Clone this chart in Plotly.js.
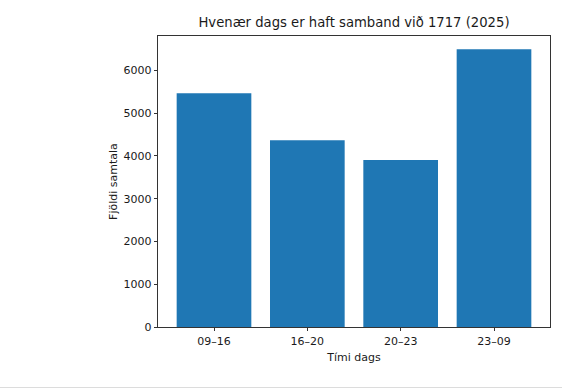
<!DOCTYPE html>
<html>
<head>
<meta charset="utf-8">
<script src="https://cdn.plot.ly/plotly-3.0.1.min.js"></script>
<style>
html,body{margin:0;padding:0;background:#fff;}
#chart{width:562px;height:392px;}
#rule{position:absolute;left:0;top:387px;width:562px;height:1px;background:#dcdcdc;}
</style>
</head>
<body>
<div id="chart"></div>
<div id="rule"></div>
<script>
const categories = ["09–16", "16–20", "20–23", "23–09"];
const calls = [5467, 4369, 3909, 6495];
const titleText = "Hvenær dags er haft samband við 1717 (2025)";
const xTitle = "Tími dags";
const yTitle = "Fjöldi samtala";

const font = "DejaVu Sans, sans-serif";
const maxV = Math.max(...calls);

Plotly.newPlot("chart", [{
  type: "bar",
  x: categories,
  y: calls,
  marker: {color: "#1f77b4"},
  hoverinfo: "x+y"
}], {
  width: 562, height: 392,
  margin: {l: 158, r: 11.5, t: 35.7, b: 65, pad: 0},
  paper_bgcolor: "#fff", plot_bgcolor: "#fff",
  bargap: 0.2,
  showlegend: false,
  font: {family: font, color: "#1a1a1a", size: 11},
  title: {text: titleText, font: {family: font, size: 13.2, color: "#1a1a1a"},
          x: 0.5, xref: "paper", xanchor: "center", y: 1 - 22/392, yref: "container", yanchor: "middle"},
  xaxis: {
    type: "category", range: [-0.6, 3.6],
    showline: true, mirror: true, linecolor: "#000", linewidth: 0.8,
    ticks: "outside", ticklen: 3.5, tickwidth: 0.8, tickcolor: "#000",
    showgrid: false, zeroline: false,
    tickfont: {family: font, size: 11, color: "#1a1a1a"},
    title: {text: xTitle, font: {family: font, size: 11, color: "#1a1a1a"}, standoff: 6}
  },
  yaxis: {
    range: [0, maxV * 1.048], dtick: 1000, tick0: 0,
    showline: true, mirror: true, linecolor: "#000", linewidth: 0.8,
    ticks: "outside", ticklen: 3.5, tickwidth: 0.8, tickcolor: "#000",
    showgrid: false, zeroline: false,
    tickfont: {family: font, size: 11, color: "#1a1a1a"},
    title: {text: yTitle, font: {family: font, size: 11, color: "#1a1a1a"}, standoff: 3}
  }
}, {displayModeBar: false, staticPlot: true});
</script>
</body>
</html>
